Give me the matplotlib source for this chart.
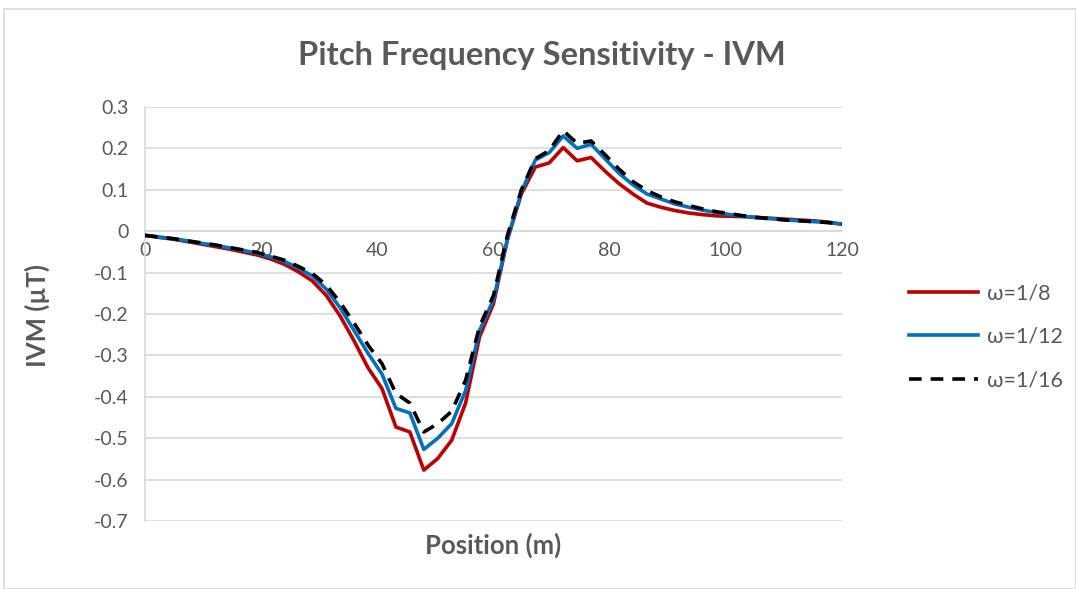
import matplotlib
matplotlib.use("Agg")
import matplotlib.pyplot as plt
from matplotlib.patches import Rectangle

position = [0, 2.4, 4.8, 7.2, 9.6, 12, 14.4, 16.8, 19.2, 21.6, 24, 26.4, 28.8, 31.2, 33.6,
            36, 38.4, 40.8, 43.2, 45.6, 48, 50.4, 52.8, 55.2, 57.6, 60, 62.4, 64.8, 67.2,
            69.6, 72, 74.4, 76.8, 79.2, 81.6, 84, 86.4, 88.8, 91.2, 93.6, 96, 98.4, 100.8,
            103.2, 105.6, 108, 110.4, 112.8, 115.2, 117.6, 120]

w_1_8 = [-0.010, -0.015, -0.019, -0.025, -0.031, -0.037, -0.043, -0.050, -0.057, -0.067,
         -0.080, -0.098, -0.120, -0.155, -0.205, -0.265, -0.330, -0.380, -0.473, -0.485,
         -0.577, -0.549, -0.505, -0.415, -0.255, -0.175, -0.020, 0.090, 0.155, 0.165,
         0.202, 0.170, 0.178, 0.145, 0.115, 0.090, 0.068, 0.058, 0.050, 0.044, 0.040,
         0.037, 0.036, 0.035, 0.033, 0.031, 0.029, 0.027, 0.025, 0.022, 0.017]

w_1_12 = [-0.010, -0.014, -0.018, -0.023, -0.029, -0.034, -0.040, -0.046, -0.053, -0.062,
          -0.073, -0.089, -0.108, -0.140, -0.185, -0.240, -0.295, -0.345, -0.428, -0.439,
          -0.527, -0.500, -0.465, -0.385, -0.240, -0.165, -0.020, 0.095, 0.172, 0.190,
          0.230, 0.200, 0.210, 0.175, 0.140, 0.112, 0.090, 0.078, 0.066, 0.058, 0.051,
          0.045, 0.040, 0.036, 0.032, 0.030, 0.027, 0.025, 0.023, 0.021, 0.017]

w_1_16 = [-0.010, -0.014, -0.018, -0.023, -0.028, -0.033, -0.039, -0.045, -0.051, -0.060,
          -0.070, -0.085, -0.102, -0.130, -0.172, -0.222, -0.275, -0.320, -0.392, -0.415,
          -0.485, -0.465, -0.435, -0.360, -0.230, -0.155, -0.010, 0.100, 0.175, 0.195,
          0.243, 0.212, 0.218, 0.185, 0.150, 0.120, 0.098, 0.083, 0.071, 0.062, 0.054,
          0.047, 0.042, 0.037, 0.033, 0.030, 0.027, 0.025, 0.023, 0.021, 0.017]

x_ticks = [0, 20, 40, 60, 80, 100, 120]
y_ticks = [-0.7, -0.6, -0.5, -0.4, -0.3, -0.2, -0.1, 0, 0.1, 0.2, 0.3]
y_tick_labels = ["-0.7", "-0.6", "-0.5", "-0.4", "-0.3", "-0.2", "-0.1", "0", "0.1", "0.2", "0.3"]

plt.rcParams['font.family'] = ['Lato', 'DejaVu Sans']
txt = '#595959'

fig = plt.figure(figsize=(10.76, 5.89), dpi=100)
fig.patches.append(Rectangle((4/1076, 0), 1 - 4/1076, 1 - 9/589, transform=fig.transFigure,
                             fill=False, edgecolor='#d9d9d9', linewidth=1.2))
ax = fig.add_axes([145/1076, 1 - 521/589, (842 - 145)/1076, (521 - 107)/589])

ax.plot(position, w_1_8, color='#C00000', lw=2.6, label='ω=1/8', zorder=3)
ax.plot(position, w_1_12, color='#0070C0', lw=2.6, label='ω=1/12', zorder=4)
ax.plot(position, w_1_16, color='black', lw=2.6, ls=(0, (3.5, 2.5)), label='ω=1/16', zorder=5)

ax.set_xlim(0, 120)
ax.set_ylim(-0.7, 0.3)
ax.set_yticks(y_ticks)
ax.set_yticklabels(y_tick_labels)
ax.set_xticks(x_ticks)
ax.grid(axis='y', color='#d9d9d9', lw=1.2)
ax.set_axisbelow(True)
for s in ['top', 'right']:
    ax.spines[s].set_visible(False)
ax.spines['bottom'].set_position(('data', 0))
ax.spines['bottom'].set_color('#d9d9d9')
ax.spines['bottom'].set_linewidth(1.2)
ax.spines['left'].set_color('#d9d9d9')
ax.spines['left'].set_linewidth(1.2)
ax.tick_params(axis='both', length=0, labelsize=14, colors=txt)
ax.tick_params(axis='x', pad=8)
ax.tick_params(axis='y', pad=12)

fig.text(542/1076, 1 - 55/589, 'Pitch Frequency Sensitivity - IVM', ha='center', va='center',
         fontsize=23.5, fontweight='bold', color=txt)
fig.text(493/1076, 1 - 545/589, 'Position (m)', ha='center', va='center',
         fontsize=18.5, fontweight='bold', color=txt)
fig.text(37/1076, 1 - 315/589, 'IVM (µT)', ha='center', va='center', rotation=90,
         fontsize=18.5, fontweight='bold', color=txt)

leg = fig.legend(loc='center left', bbox_to_anchor=(890/1076, 1 - 337/589), frameon=False,
                 fontsize=15.5, handlelength=3.2, labelspacing=1.1, handletextpad=0.4,
                 labelcolor=txt)

fig.savefig('out.png', dpi=100)
